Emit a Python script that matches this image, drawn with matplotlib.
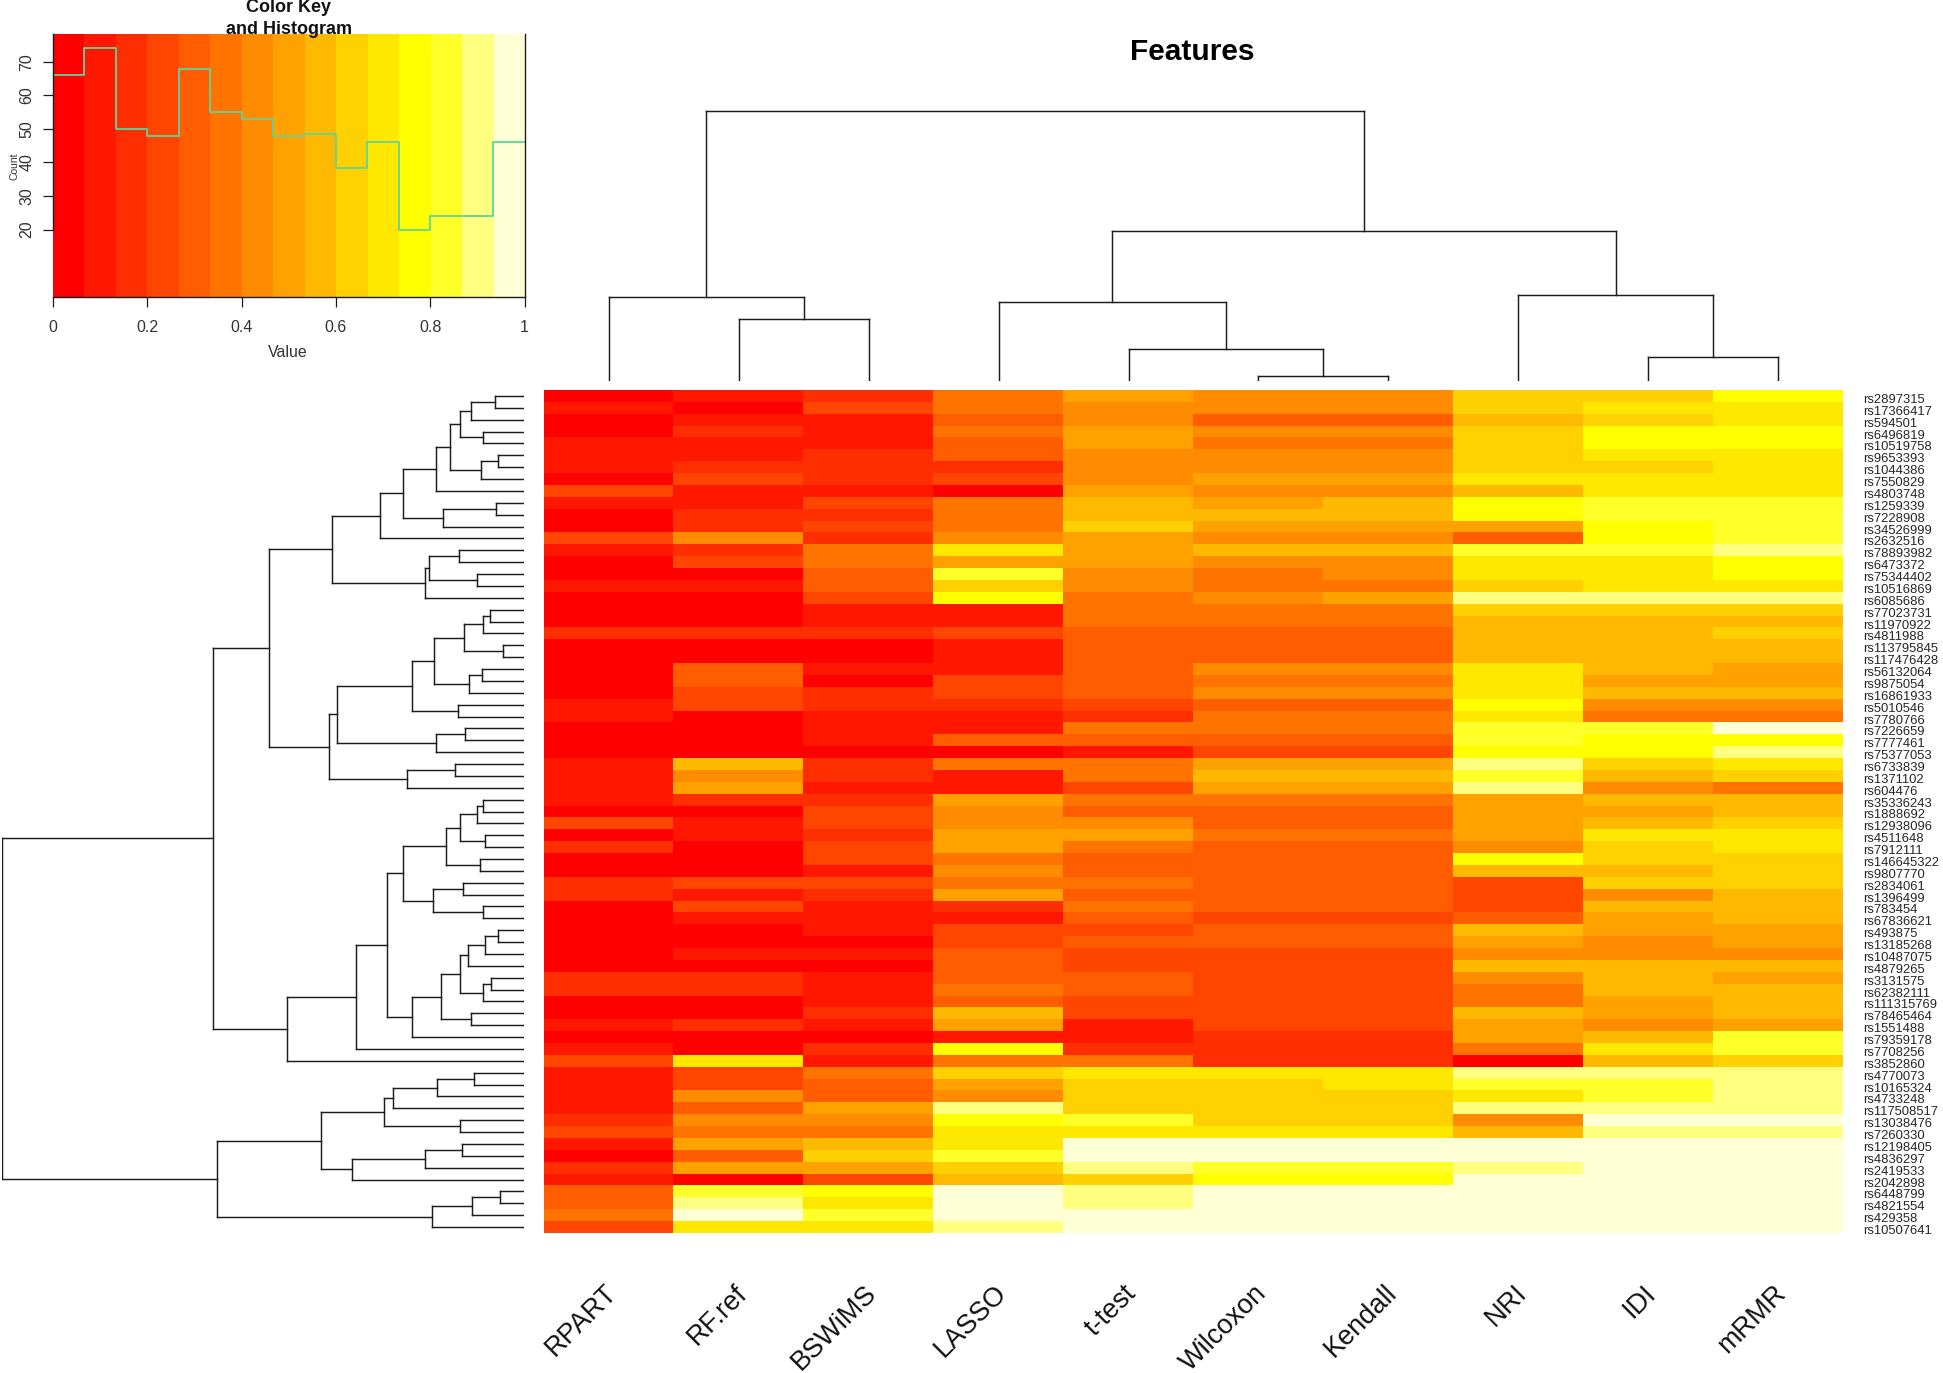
import numpy as np
import matplotlib
matplotlib.use("Agg")
import matplotlib.pyplot as plt
from matplotlib.colors import ListedColormap

W, H = 1943, 1373
plt.rcParams['font.family'] = ['Liberation Sans', 'DejaVu Sans']

methods = ["RPART", "RF.ref", "BSWiMS", "LASSO", "t-test", "Wilcoxon", "Kendall", "NRI", "IDI", "mRMR"]
snps = ["rs2897315","rs17366417","rs594501","rs6496819","rs10519758","rs9653393","rs1044386","rs7550829",
"rs4803748","rs1259339","rs7228908","rs34526999","rs2632516","rs78893982","rs6473372","rs75344402",
"rs10516869","rs6085686","rs77023731","rs11970922","rs4811988","rs113795845","rs117476428","rs56132064",
"rs9875054","rs16861933","rs5010546","rs7780766","rs7226659","rs7777461","rs75377053","rs6733839",
"rs1371102","rs604476","rs35336243","rs1888692","rs12938096","rs4511648","rs7912111","rs146645322",
"rs9807770","rs2834061","rs1396499","rs783454","rs67836621","rs493875","rs13185268","rs10487075",
"rs4879265","rs3131575","rs62382111","rs111315769","rs78465464","rs1551488","rs79359178","rs7708256",
"rs3852860","rs4770073","rs10165324","rs4733248","rs117508517","rs13038476","rs7260330","rs12198405",
"rs4836297","rs2419533","rs2042898","rs6448799","rs4821554","rs429358","rs10507641"]

# colour bin (0-14) of each cell
bins = [
[0,1,2,5,7,6,6,9,9,11],[1,0,3,5,6,6,6,9,10,10],[0,1,1,4,6,4,4,8,9,10],[0,2,1,5,7,6,6,9,11,11],
[1,1,1,4,7,5,5,9,11,11],[1,1,2,4,6,6,6,9,10,10],[1,2,2,2,6,6,6,9,9,10],[0,3,2,3,6,7,7,10,10,10],
[3,1,1,0,7,6,6,8,10,10],[1,1,3,5,8,7,8,11,12,12],[0,2,2,5,8,8,8,11,12,12],[0,2,3,5,9,7,7,7,11,12],
[3,6,2,6,7,6,6,4,11,12],[1,2,5,10,7,8,8,12,12,13],[0,3,5,7,7,6,6,10,10,11],[0,0,4,12,6,5,6,10,10,11],
[1,1,4,9,6,5,5,9,10,10],[0,0,3,11,5,6,7,13,13,13],[0,0,1,1,5,5,5,9,9,9],[0,0,1,1,5,5,5,8,8,8],
[2,2,2,3,4,4,4,8,8,9],[0,0,0,1,4,4,4,8,8,8],[0,0,0,1,4,4,4,8,8,8],[0,4,1,1,4,6,6,10,8,7],
[0,4,0,3,4,5,5,10,7,7],[0,3,2,3,4,6,6,10,8,8],[1,3,2,2,3,4,4,11,6,6],[1,0,1,1,2,5,5,10,5,5],
[0,0,1,1,5,5,5,12,12,14],[0,0,1,4,4,4,4,12,11,11],[0,0,0,0,1,3,3,11,11,13],[1,8,2,5,5,7,7,13,9,10],
[1,6,2,1,5,8,8,12,8,9],[1,7,1,1,3,7,7,13,6,5],[1,2,2,7,5,5,5,7,8,8],[0,0,3,6,4,4,4,7,7,8],
[3,1,3,6,6,4,4,7,8,9],[0,1,2,7,7,5,5,7,10,10],[2,0,3,7,5,4,4,6,9,10],[0,0,3,5,4,4,4,11,9,9],
[0,0,1,6,4,4,4,8,8,9],[2,3,3,5,5,4,4,3,9,9],[2,1,2,7,4,4,4,3,6,8],[0,3,1,2,5,4,4,3,8,8],
[0,1,1,1,4,3,3,4,7,8],[0,0,1,3,3,4,4,8,7,7],[0,0,0,3,4,4,4,7,6,7],[0,1,1,4,3,3,3,6,6,6],
[0,0,0,4,3,3,3,8,8,8],[2,2,1,4,4,3,3,6,8,7],[2,2,1,5,4,3,3,5,8,8],[0,0,1,4,3,3,3,5,7,8],
[0,0,2,8,3,3,3,8,7,8],[1,2,1,7,1,3,3,7,6,7],[0,0,0,1,1,2,2,7,8,12],[1,0,2,11,2,2,2,5,10,12],
[3,10,1,5,5,2,2,0,8,9],[1,3,5,9,10,10,10,13,13,13],[1,3,4,7,9,9,10,12,12,13],[1,6,4,6,9,9,9,10,12,13],
[1,4,7,13,9,9,9,13,13,13],[2,6,6,11,12,9,9,6,14,14],[3,5,5,10,10,10,10,8,13,13],[1,7,8,10,14,14,14,14,14,14],
[0,4,9,12,14,14,14,14,14,14],[2,7,7,9,13,12,12,13,14,14],[1,0,3,8,9,11,11,14,14,14],[4,12,11,14,13,14,14,14,14,14],
[4,13,10,14,13,14,14,14,14,14],[5,14,12,14,14,14,14,14,14,14],[3,10,10,13,14,14,14,14,14,14]]

hist_counts = [66, 74, 50, 48, 68, 55, 53, 48, 48.5, 38.5, 46, 20, 24, 24, 46]
key_ticks = [0, 0.2, 0.4, 0.6, 0.8, 1]
key_ticklabels = ["0", "0.2", "0.4", "0.6", "0.8", "1"]
count_ticks = [20, 30, 40, 50, 60, 70]

# dendrograms: (merge height, first branch, second branch); integers are leaves
col_tree = (810,
    (251, 0, (184, 1, 2)),
    (449, (235, 3, (95, 4, (13, 5, 6))), (258, 7, (71, 8, 9))))
row_tree = (1517,
  (903,
    (741,
      (557,
        (418,
          (351,
            (257,
              (215,
                (185, (155, (84, 0, 1), 2), (118, 3, 4)),
                (124, (76, 5, 6), 7)),
              8),
            (234, (80, 9, 10), 11)),
          12),
        (287, (275, (189, 13, 14), (136, 15, 16)), 17)),
      (565,
        (542,
          (325,
            (260, (174, (118, (99, 18, 19), 20), (61, 21, 22)), (159, (121, 23, 24), 25)),
            (192, 26, 27)),
          (257, (170, 28, 29), 30)),
        (339, (200, 31, 32), 33))),
    (689,
      (489,
        (399,
          (351,
            (226, (185, (136, (118, 34, 35), 36), (114, 37, 38)), (129, 39, 40)),
            (264, (177, 41, 42), (118, 43, 44))),
          (325,
            (241,
              (185, (162, (114, (76, 45, 46), 47), 48), (118, (95, 49, 50), 51)),
              (155, 52, 53)),
            54)),
        55),
      56)),
  (891,
    (591,
      (407, (381, (253, (144, 57, 58), 59), 60), (185, 61, 62)),
      (501, (287, (181, 63, 64), 65), 66)),
    (268, (151, (69, 67, 68), 69), 70)))

heat_colors = ['#FF0000','#FF1700','#FF2E00','#FF4600','#FF5D00','#FF7400','#FF8B00','#FFA200',
               '#FFB900','#FFD100','#FFE800','#FFFF00','#FFFF2A','#FFFF80','#FFFFD5']
cmap = ListedColormap(heat_colors)
LINE = '#1c1c1c'
TXT = '#262626'


def ax_px(fig, x0, y0, x1, y1):
    return fig.add_axes([x0 / W, 1 - y1 / H, (x1 - x0) / W, (y1 - y0) / H])


def fx(x):
    return x / W


def fy(y):
    return 1 - y / H


def walk(node, segs):
    """Collect the bracket segments; returns (position, height) of the node."""
    if isinstance(node, int):
        return node, 0
    h, a, b = node
    pa, ha = walk(a, segs)
    pb, hb = walk(b, segs)
    segs.append((pa, ha, pa, h))
    segs.append((pb, hb, pb, h))
    segs.append((pa, h, pb, h))
    return (pa + pb) / 2, h


fig = plt.figure(figsize=(W / 100, H / 100), dpi=100, facecolor='white')

# heat map
hm = ax_px(fig, 544, 390, 1843, 1233)
hm.imshow(np.array(bins), cmap=cmap, vmin=0, vmax=14, aspect='auto', interpolation='nearest')
hm.axis('off')
n_rows = len(snps)
for i, s in enumerate(snps):
    fig.text(fx(1863), fy(394 + (i + 0.5) * 843 / n_rows), s, fontsize=9.4, color=TXT, ha='left', va='center')
for j, m in enumerate(methods):
    cx = 544 + (j + 0.5) * 1299 / len(methods)
    fig.text(fx(cx - 5), fy(1280), m, fontsize=19.5, color='#111111', rotation=45,
             rotation_mode='anchor', ha='right', va='top')

# column dendrogram
cd = ax_px(fig, 544, 100, 1843, 380.7)
segs = []
walk(col_tree, segs)
for a, b, c, d in segs:
    cd.plot([a, c], [b, d], color=LINE, lw=1.05, solid_capstyle='projecting')
cd.set_xlim(-0.5, 9.5)
cd.set_ylim(0, 810 * 280.7 / 270)
cd.axis('off')

# row dendrogram
rd = ax_px(fig, 1.7, 390, 524, 1233)
segs = []
walk(row_tree, segs)
for a, b, c, d in segs:
    rd.plot([b, d], [a, c], color=LINE, lw=1.05, solid_capstyle='projecting')
rd.set_xlim(1517, 0)
rd.set_ylim(n_rows - 0.5, -0.5)
rd.axis('off')

# colour key and histogram
key = ax_px(fig, 53, 34, 524.5, 296.7)
key.imshow(np.arange(15).reshape(1, -1), cmap=cmap, vmin=0, vmax=14, aspect='auto',
           extent=[0, 1, 0, 78.3], interpolation='nearest')
edges = np.linspace(0, 1, len(hist_counts) + 1)
key.step(edges, hist_counts + hist_counts[-1:], where='post', color='#5CD6A0', lw=1.3)
key.set_xlim(0, 1)
key.set_ylim(0, 78.3)
key.set_xticks(key_ticks)
key.set_xticklabels(key_ticklabels)
key.set_yticks(count_ticks)
key.set_yticklabels(count_ticks, rotation=90, va='center')
key.tick_params(axis='both', length=7, width=0.9, color=LINE, labelsize=11.5, labelcolor='#333333')
key.tick_params(axis='x', pad=10)
key.tick_params(axis='y', pad=6.5)
key.spines['top'].set_visible(False)
key.spines['left'].set_bounds(20, 78.3)
for sp in ('left', 'right', 'bottom'):
    key.spines[sp].set_linewidth(1.0)
    key.spines[sp].set_color(LINE)
fig.text(fx(288), fy(352.5), 'Value', fontsize=11.5, color='#333333', ha='center', va='center')
fig.text(fx(15), fy(166), 'Count', fontsize=7.5, color='#333333', ha='center', va='center', rotation=90)
fig.text(fx(289), fy(7.5), 'Color Key', fontsize=13, fontweight='bold', color='#111111', ha='center', va='center')
fig.text(fx(289), fy(29.5), 'and Histogram', fontsize=13, fontweight='bold', color='#111111', ha='center', va='center')
fig.text(fx(1192), fy(52), 'Features', fontsize=21.5, fontweight='bold', color='black', ha='center', va='center')

fig.savefig('out.png', dpi=100, facecolor='white')
